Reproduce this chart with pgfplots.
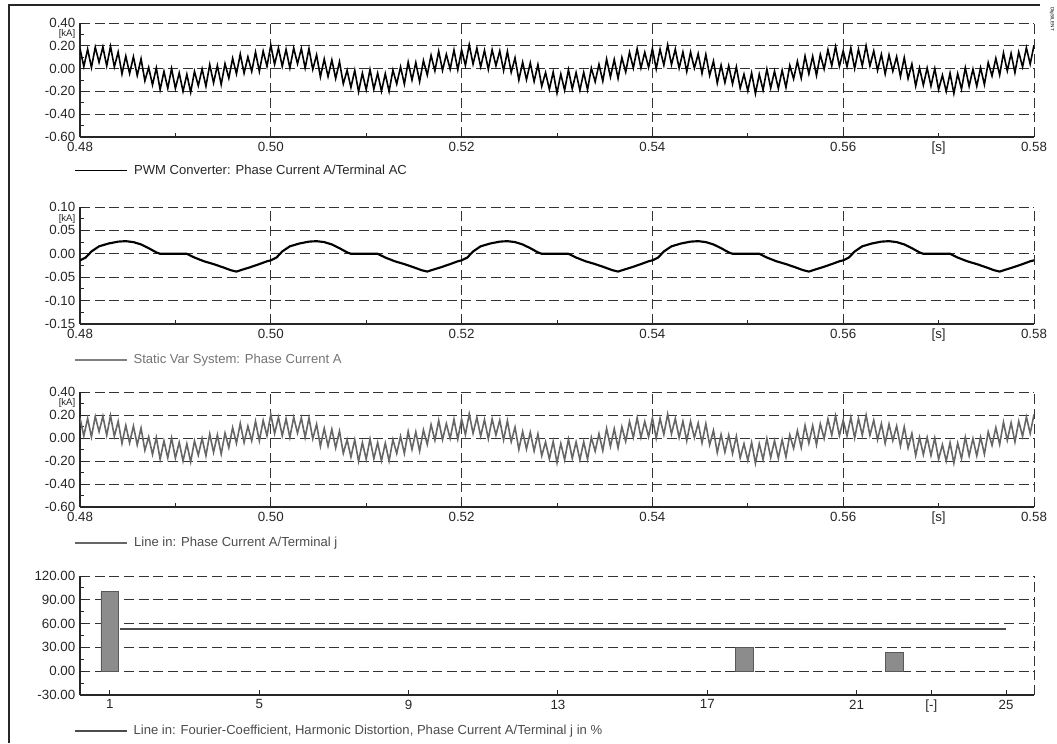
\documentclass[border=0pt]{standalone}
\usepackage{pgfplots}
\pgfplotsset{compat=1.18}
\usepackage{pgfplotstable}
\usepackage{fontspec}
\setmainfont{Liberation Sans}

\pgfplotstableread[row sep=\\]{
t y\\
0.4800 0.175\\ 0.4804 0.018\\ 0.4808 0.170\\ 0.4812 0.010\\ 0.4816 0.188\\ 0.4820 0.055\\ 0.4824 0.190\\ 0.4828 0.023\\ 0.4832 0.195\\ 0.4836 0.015\\
0.4840 0.145\\ 0.4844 -0.047\\ 0.4848 0.110\\ 0.4852 -0.043\\ 0.4856 0.104\\ 0.4860 -0.060\\ 0.4864 0.086\\ 0.4868 -0.107\\ 0.4872 0.010\\ 0.4876 -0.143\\
0.4880 0.005\\ 0.4884 -0.185\\ 0.4888 -0.025\\ 0.4892 -0.173\\ 0.4896 0.000\\ 0.4900 -0.175\\ 0.4904 -0.038\\ 0.4908 -0.200\\ 0.4912 -0.050\\ 0.4916 -0.208\\
0.4920 -0.025\\ 0.4924 -0.150\\ 0.4928 -0.003\\ 0.4932 -0.155\\ 0.4936 0.035\\ 0.4940 -0.125\\ 0.4944 0.027\\ 0.4948 -0.140\\ 0.4952 0.043\\ 0.4956 -0.084\\
0.4960 0.090\\ 0.4964 -0.046\\ 0.4968 0.127\\ 0.4972 -0.040\\ 0.4976 0.103\\ 0.4980 -0.025\\ 0.4984 0.145\\ 0.4988 -0.025\\ 0.4992 0.153\\ 0.4996 0.020\\
0.5000 0.205\\ 0.5004 0.038\\ 0.5008 0.180\\ 0.5012 0.020\\ 0.5016 0.168\\ 0.5020 0.005\\ 0.5024 0.180\\ 0.5028 0.043\\ 0.5032 0.175\\ 0.5036 0.005\\
0.5040 0.175\\ 0.5044 -0.007\\ 0.5048 0.120\\ 0.5052 -0.073\\ 0.5056 0.084\\ 0.5060 -0.070\\ 0.5064 0.076\\ 0.5068 -0.087\\ 0.5072 0.060\\ 0.5076 -0.133\\
0.5080 -0.015\\ 0.5084 -0.165\\ 0.5088 -0.015\\ 0.5092 -0.203\\ 0.5096 -0.040\\ 0.5100 -0.185\\ 0.5104 -0.008\\ 0.5108 -0.180\\ 0.5112 -0.040\\ 0.5116 -0.198\\
0.5120 -0.045\\ 0.5124 -0.200\\ 0.5128 -0.013\\ 0.5132 -0.135\\ 0.5136 0.015\\ 0.5140 -0.135\\ 0.5144 0.057\\ 0.5148 -0.100\\ 0.5152 0.053\\ 0.5156 -0.114\\
0.5160 0.070\\ 0.5164 -0.056\\ 0.5168 0.117\\ 0.5172 -0.020\\ 0.5176 0.153\\ 0.5180 -0.015\\ 0.5184 0.125\\ 0.5188 -0.005\\ 0.5192 0.163\\ 0.5196 -0.010\\
0.5200 0.165\\ 0.5204 0.028\\ 0.5208 0.210\\ 0.5212 0.040\\ 0.5216 0.178\\ 0.5220 0.015\\ 0.5224 0.160\\ 0.5228 -0.007\\ 0.5232 0.165\\ 0.5236 0.025\\
0.5240 0.155\\ 0.5244 -0.017\\ 0.5248 0.150\\ 0.5252 -0.033\\ 0.5256 0.094\\ 0.5260 -0.100\\ 0.5264 0.056\\ 0.5268 -0.097\\ 0.5272 0.050\\ 0.5276 -0.113\\
0.5280 0.035\\ 0.5284 -0.155\\ 0.5288 -0.035\\ 0.5292 -0.183\\ 0.5296 -0.030\\ 0.5300 -0.215\\ 0.5304 -0.048\\ 0.5308 -0.190\\ 0.5312 -0.010\\ 0.5316 -0.178\\
0.5320 -0.035\\ 0.5324 -0.190\\ 0.5328 -0.033\\ 0.5332 -0.185\\ 0.5336 0.005\\ 0.5340 -0.115\\ 0.5344 0.037\\ 0.5348 -0.110\\ 0.5352 0.083\\ 0.5356 -0.074\\
0.5360 0.080\\ 0.5364 -0.086\\ 0.5368 0.097\\ 0.5372 -0.030\\ 0.5376 0.143\\ 0.5380 0.005\\ 0.5384 0.175\\ 0.5388 0.005\\ 0.5392 0.143\\ 0.5396 0.010\\
0.5400 0.175\\ 0.5404 -0.002\\ 0.5408 0.170\\ 0.5412 0.030\\ 0.5416 0.208\\ 0.5420 0.035\\ 0.5424 0.170\\ 0.5428 0.003\\ 0.5432 0.145\\ 0.5436 -0.025\\
0.5440 0.145\\ 0.5444 0.003\\ 0.5448 0.130\\ 0.5452 -0.043\\ 0.5456 0.124\\ 0.5460 -0.060\\ 0.5464 0.066\\ 0.5468 -0.127\\ 0.5472 0.030\\ 0.5476 -0.123\\
0.5480 0.025\\ 0.5484 -0.135\\ 0.5488 0.015\\ 0.5492 -0.173\\ 0.5496 -0.050\\ 0.5500 -0.195\\ 0.5504 -0.038\\ 0.5508 -0.220\\ 0.5512 -0.050\\ 0.5516 -0.188\\
0.5520 -0.005\\ 0.5524 -0.170\\ 0.5528 -0.023\\ 0.5532 -0.175\\ 0.5536 -0.015\\ 0.5540 -0.165\\ 0.5544 0.027\\ 0.5548 -0.090\\ 0.5552 0.063\\ 0.5556 -0.084\\
0.5560 0.110\\ 0.5564 -0.046\\ 0.5568 0.107\\ 0.5572 -0.060\\ 0.5576 0.123\\ 0.5580 -0.005\\ 0.5584 0.165\\ 0.5588 0.025\\ 0.5592 0.193\\ 0.5596 0.020\\
0.5600 0.155\\ 0.5604 0.018\\ 0.5608 0.180\\ 0.5612 0.000\\ 0.5616 0.168\\ 0.5620 0.025\\ 0.5624 0.200\\ 0.5628 0.023\\ 0.5632 0.155\\ 0.5636 -0.015\\
0.5640 0.125\\ 0.5644 -0.047\\ 0.5648 0.120\\ 0.5652 -0.023\\ 0.5656 0.104\\ 0.5660 -0.070\\ 0.5664 0.096\\ 0.5668 -0.087\\ 0.5672 0.040\\ 0.5676 -0.153\\
0.5680 0.005\\ 0.5684 -0.145\\ 0.5688 0.005\\ 0.5692 -0.153\\ 0.5696 0.000\\ 0.5700 -0.185\\ 0.5704 -0.058\\ 0.5708 -0.200\\ 0.5712 -0.040\\ 0.5716 -0.218\\
0.5720 -0.045\\ 0.5724 -0.180\\ 0.5728 0.007\\ 0.5732 -0.155\\ 0.5736 -0.005\\ 0.5740 -0.155\\ 0.5744 0.007\\ 0.5748 -0.140\\ 0.5752 0.053\\ 0.5756 -0.064\\
0.5760 0.090\\ 0.5764 -0.056\\ 0.5768 0.137\\ 0.5772 -0.020\\ 0.5776 0.133\\ 0.5780 -0.035\\ 0.5784 0.145\\ 0.5788 0.015\\ 0.5792 0.183\\ 0.5796 0.040\\
0.5800 0.205\\
}\pwm

\pgfplotstableread[row sep=\\]{
t y\\
0.4800 -0.014\\ 0.4806 -0.008\\ 0.4812 0.005\\ 0.4820 0.016\\ 0.4830 0.022\\ 0.4840 0.026\\ 0.4848 0.027\\ 0.4856 0.025\\ 0.4864 0.020\\ 0.4872 0.012\\ 0.4880 0.003\\ 0.4884 0.000\\
0.4912 0.000\\ 0.4920 -0.008\\ 0.4930 -0.016\\ 0.4940 -0.022\\ 0.4950 -0.029\\ 0.4958 -0.035\\ 0.4964 -0.038\\ 0.4970 -0.034\\ 0.4978 -0.029\\ 0.4988 -0.022\\ 0.4996 -0.016\\
0.5000 -0.014\\ 0.5006 -0.008\\ 0.5012 0.005\\ 0.5020 0.016\\ 0.5030 0.022\\ 0.5040 0.026\\ 0.5048 0.027\\ 0.5056 0.025\\ 0.5064 0.020\\ 0.5072 0.012\\ 0.5080 0.003\\ 0.5084 0.000\\
0.5112 0.000\\ 0.5120 -0.008\\ 0.5130 -0.016\\ 0.5140 -0.022\\ 0.5150 -0.029\\ 0.5158 -0.035\\ 0.5164 -0.038\\ 0.5170 -0.034\\ 0.5178 -0.029\\ 0.5188 -0.022\\ 0.5196 -0.016\\
0.5200 -0.014\\ 0.5206 -0.008\\ 0.5212 0.005\\ 0.5220 0.016\\ 0.5230 0.022\\ 0.5240 0.026\\ 0.5248 0.027\\ 0.5256 0.025\\ 0.5264 0.020\\ 0.5272 0.012\\ 0.5280 0.003\\ 0.5284 0.000\\
0.5312 0.000\\ 0.5320 -0.008\\ 0.5330 -0.016\\ 0.5340 -0.022\\ 0.5350 -0.029\\ 0.5358 -0.035\\ 0.5364 -0.038\\ 0.5370 -0.034\\ 0.5378 -0.029\\ 0.5388 -0.022\\ 0.5396 -0.016\\
0.5400 -0.014\\ 0.5406 -0.008\\ 0.5412 0.005\\ 0.5420 0.016\\ 0.5430 0.022\\ 0.5440 0.026\\ 0.5448 0.027\\ 0.5456 0.025\\ 0.5464 0.020\\ 0.5472 0.012\\ 0.5480 0.003\\ 0.5484 0.000\\
0.5512 0.000\\ 0.5520 -0.008\\ 0.5530 -0.016\\ 0.5540 -0.022\\ 0.5550 -0.029\\ 0.5558 -0.035\\ 0.5564 -0.038\\ 0.5570 -0.034\\ 0.5578 -0.029\\ 0.5588 -0.022\\ 0.5596 -0.016\\
0.5600 -0.014\\ 0.5606 -0.008\\ 0.5612 0.005\\ 0.5620 0.016\\ 0.5630 0.022\\ 0.5640 0.026\\ 0.5648 0.027\\ 0.5656 0.025\\ 0.5664 0.020\\ 0.5672 0.012\\ 0.5680 0.003\\ 0.5684 0.000\\
0.5712 0.000\\ 0.5720 -0.008\\ 0.5730 -0.016\\ 0.5740 -0.022\\ 0.5750 -0.029\\ 0.5758 -0.035\\ 0.5764 -0.038\\ 0.5770 -0.034\\ 0.5778 -0.029\\ 0.5788 -0.022\\ 0.5796 -0.016\\
0.5800 -0.014\\
}\svc

\pgfplotsset{
  panel/.style={
    scale only axis, width=715.5pt,
    axis x line=bottom, axis y line=left,
    axis line style={-, line width=1pt, black!85},
    tick style={line width=0.7pt, black!85},
    tick align=inside,
    major tick length=4pt, minor tick length=3pt,
    grid=major,
    major grid style={line width=0.7pt, black!80, dash pattern=on 7.5pt off 3.5pt},
    tick label style={font=\fontsize{10}{11}\selectfont, text=black!85},
    legend style={draw=none, fill=none, inner sep=0pt,
      at={(axis description cs:-0.006,0)}, anchor=west, yshift=-27pt,
      font=\fontsize{9.8}{11}\selectfont,
      nodes={inner xsep=4.5pt}},
    legend cell align=left,
    legend image code/.code={\draw[#1] (0pt,0pt) -- (39pt,0pt);},
  },
  kalabel/.style={grid=none, major tick length=0pt,
    yticklabel style={font=\fontsize{7.2}{7.5}\selectfont, inner ysep=0pt}},
  timeaxis/.style={
    xmin=0.48, xmax=0.58,
    xtick={0.48,0.50,0.52,0.54,0.56,0.58},
    xticklabels={0.48,0.50,0.52,0.54,0.56,0.58},
    minor xtick={0.49,0.51,0.53,0.55,0.57},
    extra x ticks={0.57}, extra x tick labels={{[s]}},
    extra x tick style={grid=none, major tick length=0pt},
  },
  ka/.style={
    ymin=-0.6, ymax=0.4,
    ytick={-0.6,-0.4,-0.2,0,0.2,0.4},
    yticklabels={-0.60,-0.40,-0.20,0.00,0.20,0.40},
    minor ytick={-0.5,-0.3,-0.1,0.1,0.3},
    extra y ticks={0.3}, extra y tick labels={{[kA]}},
    extra y tick style={kalabel},
  },
}

\begin{document}
\begin{tikzpicture}
\path[use as bounding box] (0,0) rectangle (792.75pt,557.25pt);
\draw[line width=1.4pt, black!85] (6.75pt,0pt) -- (6.75pt,553.5pt) -- (780pt,553.5pt);
\node[rotate=-90, font=\fontsize{3.5}{4}\selectfont, anchor=west, inner sep=0pt] at (789pt,552pt) {DIgSILENT};

% Panel 1
\begin{axis}[panel, timeaxis, ka, at={(60pt,454.5pt)}, height=85.5pt,
  legend style={yshift=2pt, text=black!85}]
\addplot[black, line width=1.2pt] table[x=t,y=y]{\pwm};
\addlegendentry{PWM Converter: Phase Current A/Terminal AC}
\end{axis}

% Panel 2
\begin{axis}[panel, timeaxis, at={(60pt,314.25pt)}, height=87.75pt,
  ymin=-0.15, ymax=0.10,
  ytick={-0.15,-0.10,-0.05,0,0.05,0.10},
  yticklabels={-0.15,-0.10,-0.05,0.00,0.05,0.10},
  minor ytick={-0.125,-0.075,-0.025,0.025,0.075},
  extra y ticks={0.075}, extra y tick labels={{[kA]}},
  extra y tick style={kalabel},
  legend style={text=black!55}]
\addplot[black, line width=1.6pt, forget plot] table[x=t,y=y]{\svc};
\addlegendimage{black!50, line width=0.8pt}
\addlegendentry{Static Var System: Phase Current A}
\end{axis}

% Panel 3
\begin{axis}[panel, timeaxis, ka, at={(60pt,177pt)}, height=86.25pt,
  legend style={text=black!70}]
\addplot[black!60, line width=1.2pt] table[x=t,y=y]{\pwm};
\addlegendentry{Line in: Phase Current A/Terminal j}
\end{axis}

% Panel 4
\begin{axis}[panel, at={(60pt,36pt)}, height=89.25pt,
  xmin=0.2, xmax=25.75, ymin=-30, ymax=120,
  xmajorgrids=false, ymajorgrids=true,
  xtick={1,5,9,13,17,21,23,25},
  xticklabels={1,5,9,13,17,21,{[-]},25},
  ytick={-30,0,30,60,90,120},
  yticklabels={-30.00,0.00,30.00,60.00,90.00,120.00},
  minor ytick={-15,15,45,75,105},
  extra x ticks={25.75}, extra x tick labels={{}},
  extra x tick style={grid=major, major tick length=0pt},
  legend style={text=black!70}]
\addplot[ybar, bar width=0.48, fill=black!45, draw=black!65, line width=0.6pt, forget plot]
  coordinates {(1,100) (18,30) (22,23.5)};
\addplot[black!70, line width=1.2pt, forget plot] coordinates {(1.27,53.5) (25,53.5)};
\addlegendimage{black!70, line width=0.8pt}
\addlegendentry{Line in: Fourier-Coefficient, Harmonic Distortion, Phase Current A/Terminal j in \%}
\end{axis}
\end{tikzpicture}
\end{document}
